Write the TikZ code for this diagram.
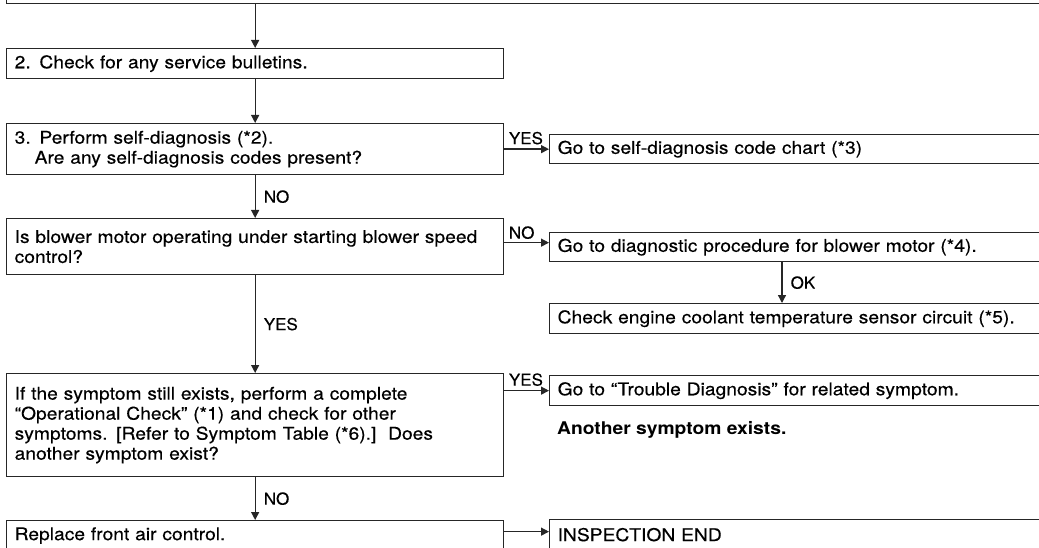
\documentclass[tikz,border=0pt]{standalone}
\usepackage{fontspec}
\setmainfont{TeX Gyre Heros}[FakeStretch=1.1, UprightFeatures={FakeBold=0.35}]
\newfontfamily\lblfont{TeX Gyre Heros}[FakeStretch=1.03, FakeBold=0.35]
\usetikzlibrary{arrows.meta,calc}
\begin{document}
\begin{tikzpicture}[x=1pt,y=-1pt,
  box/.style={draw=black!85, line width=1.3pt, rectangle, anchor=north west, inner xsep=8pt, inner ysep=0pt, align=left, font=\fontsize{17.5}{20}\selectfont},
  lbox/.style={box, minimum width=497pt, text width=481pt},
  rbox/.style={box, minimum width=600pt, text width=584pt},
  arr/.style={draw=black!85, line width=1.3pt, -{Triangle[length=8pt,width=8pt]}},
  lbl/.style={font=\lblfont\fontsize{16.5}{16}\selectfont, inner sep=0pt}
]
\useasboundingbox (0,0) rectangle (1039,548);
\clip (0,0) rectangle (1039,548);

\node[box, minimum width=1200pt, minimum height=60pt] (b1) at (6,-57) {};
\node[lbox, minimum height=30pt] (b2) at (6,48) {2. Check for any service bulletins.};
\node[lbox, minimum height=51pt] (b3) at (6,123) {3. Perform self-diagnosis (*2).\\\hspace*{20pt}Are any self-diagnosis codes present?};
\node[lbox, minimum height=56pt] (b4) at (6,218) {Is blower motor operating under starting blower speed\\control?};
\node[lbox, minimum height=103pt] (b5) at (6,373) {If the symptom still exists, perform a complete\\``Operational Check'' (*1) and check for other\\symptoms. [Refer to Symptom Table (*6).]\ \ Does\\another symptom exist?};
\node[lbox, minimum height=30pt] (b6) at (6,520) {Replace front air control.};

\node[rbox, minimum height=29pt] (r1) at (549,134) {Go to self-diagnosis code chart (*3)};
\node[rbox, minimum height=29pt] (r2) at (549,232) {Go to diagnostic procedure for blower motor (*4).};
\node[rbox, minimum height=30pt] (r3) at (549,303) {Check engine coolant temperature sensor circuit (*5).};
\node[rbox, minimum height=30pt] (r4) at (549,375) {Go to ``Trouble Diagnosis'' for related symptom.};
\node[anchor=west, inner sep=0pt, font=\bfseries\fontsize{17.5}{20}\selectfont] (note) at (557,430) {Another symptom exists.};
\node[rbox, minimum height=30pt] (r5) at (549,519) {INSPECTION END};

\draw[arr] (b1.south -| b2.north) -- (b2.north);
\draw[arr] (b2.south) -- (b3.north);
\draw[arr] (b3.east |- r1.west) -- (r1.west) node[lbl, pos=0, anchor=base west, xshift=4pt, yshift=5pt] {YES};
\draw[arr] (b3.south) -- (b4.north) node[lbl, midway, anchor=west, xshift=8pt] {NO};
\draw[arr] ([yshift=4pt]b4.east) -- ([yshift=4pt]b4.east -| r2.west) node[lbl, pos=0, anchor=base west, xshift=4pt, yshift=4pt] {NO};
\coordinate (okA) at ($(r2.south west)+(233,0)$);
\draw[arr] (okA) -- (okA |- r3.north) node[lbl, midway, anchor=west, xshift=8pt] {OK};
\draw[arr] (b4.south) -- (b5.north) node[lbl, midway, anchor=west, xshift=8pt] {YES};
\draw[arr] (b5.east |- r4.west) -- (r4.west) node[lbl, pos=0, anchor=base west, xshift=4pt, yshift=5pt] {YES};
\draw[arr] (b5.south) -- (b6.north) node[lbl, midway, anchor=west, xshift=8pt] {NO};
\draw[arr] ([yshift=3pt]r5.west -| b6.east) -- ([yshift=3pt]r5.west);
\end{tikzpicture}
\end{document}
